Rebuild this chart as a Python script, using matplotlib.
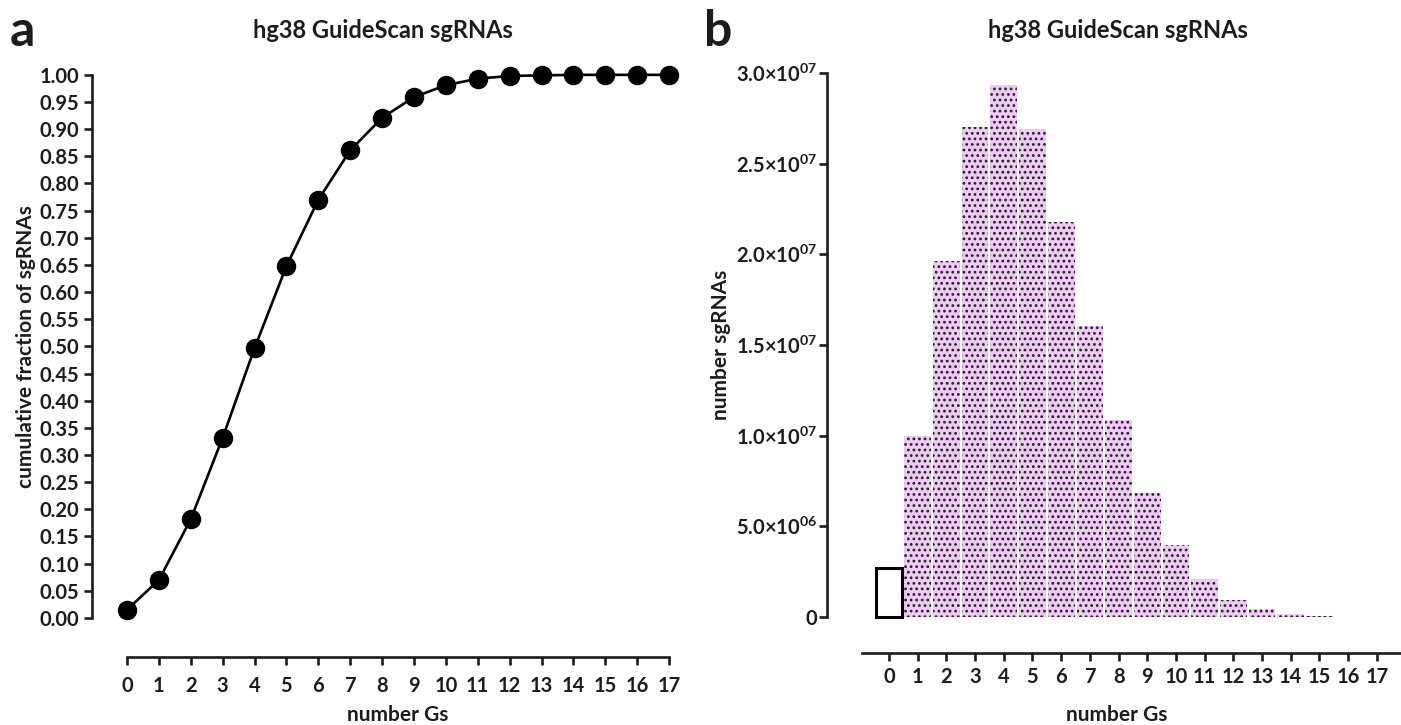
"""
hg38 GuideScan sgRNAs: cumulative fraction (a) and counts (b) by number of Gs.
"""

import matplotlib
matplotlib.use("Agg")
import matplotlib.pyplot as plt

plt.rcParams["font.family"] = ["Lato", "DejaVu Sans"]
plt.rcParams["font.weight"] = "bold"
plt.rcParams["mathtext.fontset"] = "custom"
plt.rcParams["mathtext.rm"] = "Lato:bold"
plt.rcParams["mathtext.bf"] = "Lato:bold"
plt.rcParams["hatch.linewidth"] = 1.2

TEXT = "#1c1c1c"

# data
num_gs = list(range(18))
cum_fraction = [0.015, 0.070, 0.182, 0.332, 0.497, 0.648, 0.770, 0.861,
                0.921, 0.959, 0.981, 0.993, 0.998, 0.999, 1.0, 1.0, 1.0, 1.0]
sgrna_counts = [2.7e6, 1.00e7, 1.963e7, 2.70e7, 2.934e7, 2.69e7, 2.18e7, 1.605e7,
                1.086e7, 6.84e6, 3.97e6, 2.1e6, 9.4e5, 4.4e5, 1.7e5, 5e4, 1e4, 0]
left_yticks = [i * 0.05 for i in range(21)]
right_yticks = [0, 5e6, 1e7, 1.5e7, 2e7, 2.5e7, 3e7]
right_yticklabels = ["0", "5.0×10$^{06}$", "1.0×10$^{07}$", "1.5×10$^{07}$",
                     "2.0×10$^{07}$", "2.5×10$^{07}$", "3.0×10$^{07}$"]

fig = plt.figure(figsize=(14.01, 7.25), dpi=100)
W, H = 1401, 725


def px_axes(x0, x1, ytop, ybot):
    return fig.add_axes([x0 / W, (H - ybot) / H, (x1 - x0) / W, (ybot - ytop) / H])


def style(ax):
    for side in ("top", "right"):
        ax.spines[side].set_visible(False)
    for side in ("left", "bottom"):
        ax.spines[side].set_linewidth(1.9)
        ax.spines[side].set_color(TEXT)
    ax.tick_params(width=1.9, length=6, colors=TEXT, labelsize=14.5)


# panel a
ax1 = px_axes(92, 685, 64, 657)
ax1.plot(num_gs, cum_fraction, color="black", lw=1.9, marker="o",
         markersize=13, zorder=3, clip_on=False)
ax1.set_xlim(-1.1, 17.5)
ax1.set_ylim(-0.072, 1.02)
style(ax1)
ax1.spines["left"].set_bounds(0, 1)
ax1.spines["bottom"].set_bounds(0, 17)
ax1.set_yticks(left_yticks)
ax1.set_yticklabels([f"{v:.2f}" for v in left_yticks])
ax1.set_xticks(num_gs)
ax1.tick_params(axis="x", pad=8)
ax1.tick_params(axis="y", pad=3)

# panel b
ax2 = px_axes(827, 1401, 64, 653)
ax2.bar(num_gs[1:], sgrna_counts[1:], width=0.93, color="#efcaf5",
        edgecolor="#222222", linewidth=0, hatch="...", zorder=2)
ax2.bar(num_gs[:1], sgrna_counts[:1], width=0.88, color="white",
        edgecolor="black", linewidth=2.2, zorder=2)
ax2.set_xlim(-2.16, 17.84)
ax2.set_ylim(-2.0e6, 3.05e7)
style(ax2)
ax2.spines["left"].set_bounds(0, 3e7)
ax2.spines["bottom"].set_bounds(-0.95, 17.84)
ax2.set_yticks(right_yticks)
ax2.set_yticklabels(right_yticklabels)
ax2.set_xticks(num_gs)
ax2.tick_params(axis="x", pad=4)
ax2.tick_params(axis="y", pad=1)

# titles and labels
for x_title, x_label in ((383, 398), (1118, 1117)):
    fig.text(x_title / W, 1 - 30 / H, "hg38 GuideScan sgRNAs", ha="center",
             va="center", fontsize=17, color=TEXT)
    fig.text(x_label / W, 1 - 715 / H, "number Gs", ha="center", va="center",
             fontsize=15, color=TEXT)
fig.text(26 / W, 1 - 347 / H, "cumulative fraction of sgRNAs", rotation=90,
         ha="center", va="center", fontsize=15, color=TEXT)
fig.text(721 / W, 1 - 345 / H, "number sgRNAs", rotation=90,
         ha="center", va="center", fontsize=15, color=TEXT)
fig.text(22 / W, 1 - 32 / H, "a", ha="center", va="center", fontsize=36, color=TEXT)
fig.text(718 / W, 1 - 32 / H, "b", ha="center", va="center", fontsize=36, color=TEXT)

fig.savefig("out.png", dpi=100)
